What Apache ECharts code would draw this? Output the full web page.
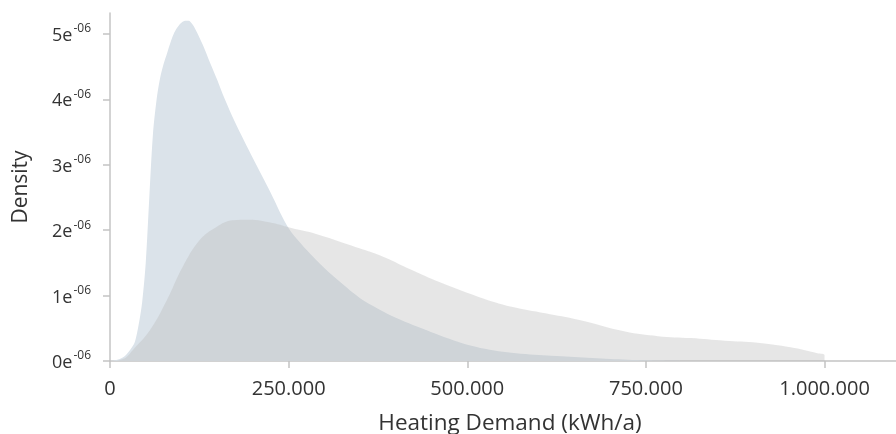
<!DOCTYPE html>
<html><head><meta charset="utf-8">
<script src="https://cdn.jsdelivr.net/npm/echarts@6/dist/echarts.min.js"></script>
<style>html,body{margin:0;padding:0;background:#fff}#c{width:896px;height:434px}</style>
</head><body><div id="c"></div>
<script>
// Heating demand (kWh/a)
const blueX = [0, 10000, 20000, 30000, 35000, 40000, 45000, 50000, 55000, 60000, 65000, 70000, 75000, 80000, 85000, 90000, 95000, 100000, 105000, 110000, 115000, 120000, 130000, 140000, 150000, 160000, 175000, 200000, 225000, 250000, 275000, 300000, 325000, 350000, 375000, 400000, 450000, 500000, 550000, 600000, 650000, 700000, 750000, 800000];
const blueY = [0, 0.02e-6, 0.07e-6, 0.2e-6, 0.3e-6, 0.55e-6, 0.9e-6, 1.5e-6, 2.5e-6, 3.45e-6, 3.98e-6, 4.32e-6, 4.54e-6, 4.71e-6, 4.88e-6, 5.02e-6, 5.11e-6, 5.17e-6, 5.2e-6, 5.2e-6, 5.15e-6, 5.06e-6, 4.83e-6, 4.56e-6, 4.3e-6, 4.02e-6, 3.65e-6, 3.1e-6, 2.57e-6, 2.03e-6, 1.7e-6, 1.42e-6, 1.18e-6, 0.96e-6, 0.8e-6, 0.66e-6, 0.44e-6, 0.25e-6, 0.14e-6, 0.09e-6, 0.06e-6, 0.03e-6, 0.01e-6, 0];
const greyX = [0, 20000, 32000, 55800, 79500, 101800, 125500, 149200, 171500, 195000, 227300, 255200, 283000, 344400, 376500, 422500, 460000, 515900, 561900, 609300, 655300, 720900, 766900, 812900, 860300, 906300, 952300, 990000, 1000000, 1000000];
const greyY = [0, 0.04e-6, 0.17e-6, 0.47e-6, 0.93e-6, 1.44e-6, 1.85e-6, 2.05e-6, 2.15e-6, 2.16e-6, 2.11e-6, 2.03e-6, 1.96e-6, 1.74e-6, 1.62e-6, 1.39e-6, 1.21e-6, 0.98e-6, 0.83e-6, 0.73e-6, 0.63e-6, 0.45e-6, 0.38e-6, 0.35e-6, 0.31e-6, 0.28e-6, 0.21e-6, 0.12e-6, 0.09e-6, 0];
const xTicks = [0, 250000, 500000, 750000, 1000000];
const yTicks = [0, 1e-6, 2e-6, 3e-6, 4e-6, 5e-6];

const FONT = 'Open Sans';
const pair = (xs, ys) => xs.map((x, i) => [x, ys[i]]);
const chart = echarts.init(document.getElementById('c'), null, {renderer: 'canvas'});
chart.setOption({
  animation: false,
  grid: {left: 110, right: 0, top: 13, bottom: 73, containLabel: false, outerBoundsMode: 'none'},
  xAxis: {
    type: 'value', min: 0, max: 1100000,
    name: 'Heating Demand (kWh/a)', nameLocation: 'middle', nameGap: 51,
    nameTextStyle: {fontFamily: FONT, fontSize: 22.5, color: '#333', padding: [0, 0, 0, 14]},
    axisLine: {show: true, lineStyle: {color: '#c4c4c4', width: 1.5}},
    axisTick: {show: true, length: 7, lineStyle: {color: '#c4c4c4', width: 1.5}, customValues: xTicks},
    axisLabel: {customValues: xTicks, margin: 18, fontFamily: FONT, fontSize: 20, color: '#333',
      formatter: v => Math.round(v).toString().replace(/\B(?=(\d{3})+(?!\d))/g, '.')},
    splitLine: {show: false}
  },
  yAxis: {
    type: 'value', min: 0, max: 5.32e-6,
    name: 'Density', nameLocation: 'middle', nameGap: 78,
    nameTextStyle: {fontFamily: FONT, fontSize: 21, color: '#333'},
    axisLine: {show: true, lineStyle: {color: '#c4c4c4', width: 1.5}},
    axisTick: {show: true, length: 7, lineStyle: {color: '#c4c4c4', width: 1.5}, customValues: yTicks},
    axisLabel: {customValues: yTicks, margin: 19, fontFamily: FONT, color: '#333',
      formatter: v => '{b|' + Math.round(v * 1e6) + 'e}{s|-06}',
      rich: {
        b: {fontFamily: FONT, fontSize: 18, color: '#333', lineHeight: 22, verticalAlign: 'bottom'},
        s: {fontFamily: FONT, fontSize: 12, color: '#333', lineHeight: 22, verticalAlign: 'top', padding: [0, 0, 0, 1]}
      }},
    splitLine: {show: false}
  },
  series: [
    {type: 'line', data: pair(blueX, blueY), smooth: 0.3, symbol: 'none',
      lineStyle: {width: 0}, areaStyle: {color: '#dbe3ea', opacity: 1}, z: 2},
    {type: 'line', data: pair(greyX, greyY), smooth: 0.4, symbol: 'none',
      lineStyle: {width: 0}, areaStyle: {color: 'rgba(186,186,186,0.36)', opacity: 1}, z: 3}
  ]
});
</script></body></html>
